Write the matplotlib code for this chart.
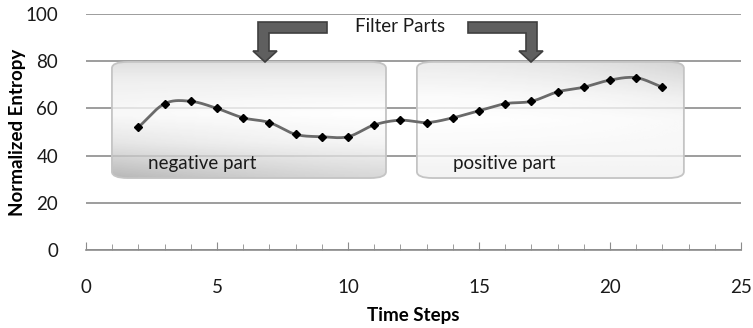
import numpy as np
import matplotlib
matplotlib.use('Agg')
import matplotlib.pyplot as plt
from matplotlib.patches import FancyBboxPatch, Polygon

plt.rcParams['font.family'] = ['Lato', 'DejaVu Sans']

# data
steps = [2, 3, 4, 5, 6, 7, 8, 9, 10, 11, 12, 13, 14, 15, 16, 17, 18, 19, 20, 21, 22]
entropy = [52, 62, 63, 60, 56, 54, 49, 48, 48, 53, 55, 54, 56, 59, 62, 63, 67, 69, 72, 73, 69]
y_ticks = [0, 20, 40, 60, 80, 100]
x_ticks = [0, 5, 10, 15, 20, 25]


def smooth(x, y, n=20):
    # catmull-rom curve through the points (like excel smoothed line)
    x = np.asarray(x, float)
    y = np.asarray(y, float)
    px = np.concatenate([[2 * x[0] - x[1]], x, [2 * x[-1] - x[-2]]])
    py = np.concatenate([[2 * y[0] - y[1]], y, [2 * y[-1] - y[-2]]])
    xs, ys = [], []
    t = np.linspace(0, 1, n)
    for i in range(1, len(px) - 2):
        for p, out in ((px, xs), (py, ys)):
            p0, p1, p2, p3 = p[i - 1], p[i], p[i + 1], p[i + 2]
            out.extend(0.5 * ((2 * p1) + (-p0 + p2) * t
                              + (2 * p0 - 5 * p1 + 4 * p2 - p3) * t ** 2
                              + (-p0 + 3 * p1 - 3 * p2 + p3) * t ** 3))
    return xs, ys


W, H = 753, 328
fig = plt.figure(figsize=(W / 100, H / 100), dpi=100)
ax = fig.add_axes([86 / W, 1 - 250 / H, (741 - 86) / W, (250 - 14) / H])

ax.set_xlim(0, 25)
ax.set_ylim(0, 100)
ax.set_yticks(y_ticks)
ax.set_xticks(x_ticks)
ax.set_xticks(np.arange(0, 26, 1), minor=True)
ax.yaxis.grid(True, color='#8c8c8c', lw=1.2)
ax.set_axisbelow(True)
for s in ['top', 'right', 'left']:
    ax.spines[s].set_visible(False)
ax.spines['bottom'].set_color('#8c8c8c')
ax.spines['bottom'].set_linewidth(1.2)
ax.tick_params(axis='y', length=0, pad=20, labelsize=13.5, labelcolor='#1a1a1a')
ax.tick_params(axis='x', which='major', direction='in', length=6, color='#8c8c8c',
               pad=21, labelsize=13.5, labelcolor='#1a1a1a')
ax.tick_params(axis='x', which='minor', direction='in', length=4, color='#8c8c8c')
ax.set_xlabel('Time Steps', fontsize=13.5, fontweight='bold')
ax.set_ylabel('Normalized Entropy', fontsize=13.5, fontweight='bold')
ax.xaxis.set_label_coords((413 - 86) / 655, -(315 - 250) / 236)
ax.yaxis.set_label_coords((18 - 86) / 655, (250 - 132) / 236)
ax.xaxis.label.set_va('center')
ax.yaxis.label.set_va('center')

# shaded rounded boxes
u = np.linspace(0, 1, 120)[None, :]
v = np.linspace(0, 1, 80)[:, None]
neg = np.interp(v, [0, 0.15, 0.45, 0.7, 1], [0.84, 0.92, 1.0, 0.95, 0.80]) * np.ones_like(u)
neg = neg - 0.16 * v ** 2 * (1 - u) ** 1.5
pos = np.interp(v, [0, 0.3, 0.5, 1], [0.90, 0.98, 1.0, 0.94]) * np.ones_like(u)
pos = pos - 0.12 * (1 - v) ** 2 * u ** 2

for (x0, x1), img in (((0.99, 11.45), neg), ((12.63, 22.82), pos)):
    box = FancyBboxPatch((x0, 30.5), x1 - x0, 79.7 - 30.5,
                         boxstyle='round,pad=0,rounding_size=0.6',
                         mutation_aspect=4.5, fc='none', ec='#c4c4c4', lw=1.3, zorder=3)
    ax.add_patch(box)
    im = ax.imshow(img, extent=[x0, x1, 30.5, 79.7], cmap='gray', vmin=0, vmax=1,
                   aspect='auto', alpha=0.78, zorder=2, interpolation='bicubic')
    im.set_clip_path(box)

ax.set_xlim(0, 25)
ax.set_ylim(0, 100)

sx, sy = smooth(steps, entropy)
ax.plot(sx, sy, color='#6a6a6a', lw=2, zorder=4)
ax.plot(steps, entropy, 'D', color='black', ms=4.5, zorder=5)

fig.text(148 / W, 1 - 164 / H, 'negative part', fontsize=13.5, va='center', color='#1a1a1a')
fig.text(453 / W, 1 - 164 / H, 'positive part', fontsize=13.5, va='center', color='#1a1a1a')
fig.text(400 / W, 1 - 27 / H, 'Filter Parts', fontsize=13.5, ha='center', va='center',
         color='#1a1a1a')

# bent arrows (pixel coords from top-left)
left_arrow = [(327, 22), (258, 22), (258, 51), (253, 51), (265, 62), (277, 51),
              (269, 51), (269, 33), (327, 33)]
right_arrow = [(468, 22), (537, 22), (537, 51), (543, 51), (531, 62), (519, 51),
               (526, 51), (526, 33), (468, 33)]
for pts in (left_arrow, right_arrow):
    fig.patches.append(Polygon([(px / W, 1 - py / H) for px, py in pts], closed=True,
                               transform=fig.transFigure, fc='#5f5f5f', ec='#3f3f3f',
                               lw=1.2, zorder=6))

fig.savefig('out.png', dpi=100)
